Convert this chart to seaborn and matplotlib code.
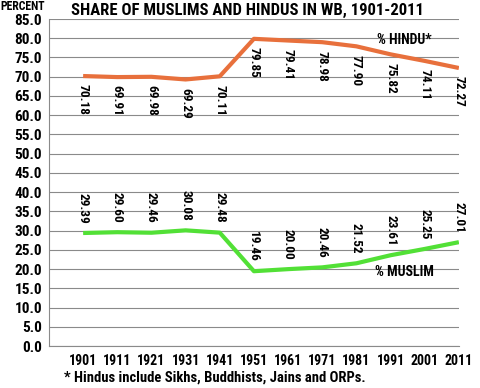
import pandas as pd
import matplotlib
matplotlib.use("Agg")
import matplotlib.pyplot as plt
import seaborn as sns
import numpy as np

# data
years = ["1901", "1911", "1921", "1931", "1941", "1951",
         "1961", "1971", "1981", "1991", "2001", "2011"]
hindu = [70.18, 69.91, 69.98, 69.29, 70.11, 79.85,
         79.41, 78.98, 77.90, 75.82, 74.11, 72.27]
muslim = [29.39, 29.60, 29.46, 30.08, 29.48, 19.46,
          20.00, 20.46, 21.52, 23.61, 25.25, 27.01]

sns.set_style("white")
plt.rcParams['font.family'] = ['Roboto Condensed', 'DejaVu Sans']
plt.rcParams['text.color'] = 'black'
plt.rcParams['xtick.color'] = 'black'
plt.rcParams['ytick.color'] = 'black'

ORANGE = "#E8703C"
GREEN = "#52E036"
GRID = "#8a8a8a"
W = "heavy"

df = pd.DataFrame({"pos": np.arange(1, len(years) + 1), "Year": years,
                   "Hindu": hindu, "Muslim": muslim})

fig = plt.figure(figsize=(4.8, 3.88), dpi=100)
ax = fig.add_axes([0.102, 0.108, 0.854, 0.843])

sns.lineplot(data=df, x="pos", y="Hindu", color=ORANGE, lw=3.0, ax=ax,
             solid_capstyle="butt", zorder=3)
sns.lineplot(data=df, x="pos", y="Muslim", color=GREEN, lw=3.0, ax=ax,
             solid_capstyle="butt", zorder=3)

ax.set_xlim(0, len(years))
ax.set_ylim(0, 85)
ax.set_yticks(np.arange(0, 85.1, 5))
ax.set_yticklabels([f"{v:.1f}" for v in np.arange(0, 85.1, 5)],
                   fontsize=11, fontweight=W)
ax.set_xticks(np.arange(0, len(years) + 1))
ax.set_xticklabels([""] + years, fontsize=10, fontweight=W)
ax.tick_params(axis="both", direction="out", length=3, width=0.8,
               color=GRID, pad=2)
ax.tick_params(axis="x", pad=3)
ax.grid(axis="y", color=GRID, lw=0.8)
ax.set_axisbelow(True)
for s in ["top", "right"]:
    ax.spines[s].set_visible(False)
for s in ["left", "bottom"]:
    ax.spines[s].set_color(GRID)
    ax.spines[s].set_linewidth(0.8)
ax.set_xlabel("")
ax.set_ylabel("")

# value labels, rotated
for x, h, m in zip(df["pos"], hindu, muslim):
    ax.annotate(f"{h:.2f}", (x, h), xytext=(0, -6), textcoords="offset points",
                rotation=270, ha="center", va="top", fontsize=9.5,
                fontweight=W)
    ax.annotate(f"{m:.2f}", (x, m), xytext=(0, 7), textcoords="offset points",
                rotation=270, ha="center", va="bottom", fontsize=9.5,
                fontweight=W)

fig.text(0.843, 0.897, "% HINDU*", ha="center", va="center", fontsize=10,
         fontweight=W)
fig.text(0.842, 0.299, "% MUSLIM", ha="center", va="center", fontsize=10,
         fontweight=W)

fig.text(0.0, 0.982, "PERCENT", ha="left", va="center", fontsize=8.5,
         fontweight=W)
fig.text(0.515, 0.972, "SHARE OF MUSLIMS AND HINDUS IN WB, 1901-2011",
         ha="center", va="center", fontsize=12, fontweight=W)
fig.text(0.133, 0.026, "* Hindus include Sikhs, Buddhists, Jains and ORPs.",
         ha="left", va="center", fontsize=10.5, fontweight=W)

fig.savefig("out.png", dpi=100)
